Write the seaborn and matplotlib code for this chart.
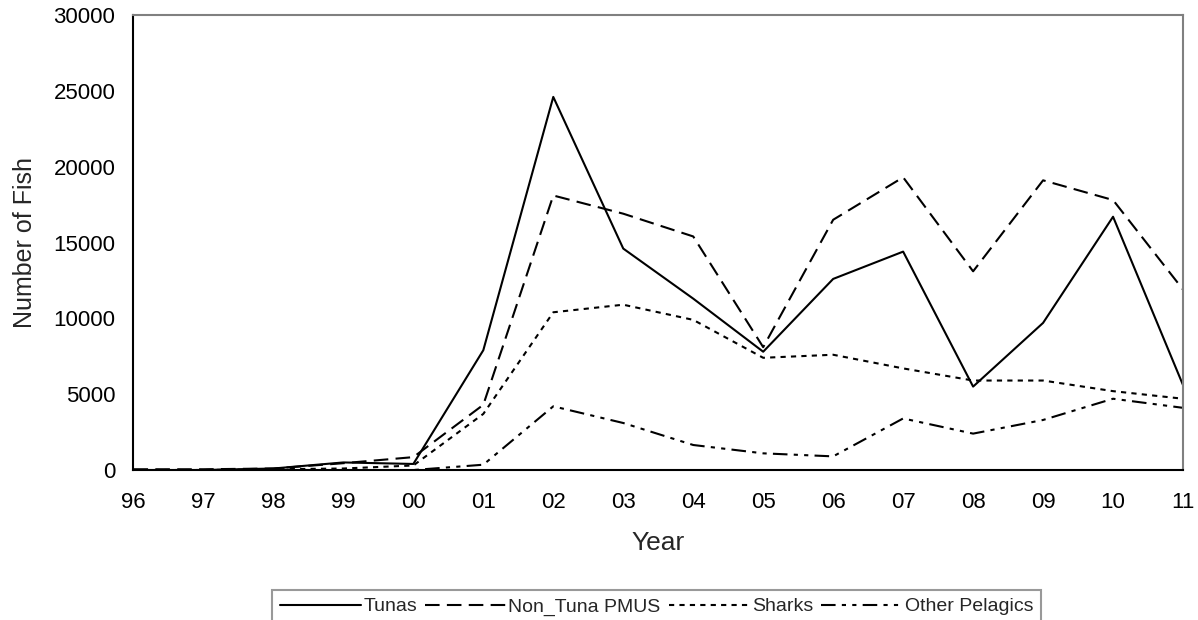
import pandas as pd
import matplotlib.pyplot as plt
import seaborn as sns

# Data
years = ['96', '97', '98', '99', '00', '01', '02', '03', '04', '05', '06', '07', '08', '09', '10', '11']
tunas = [0, 0, 100, 500, 400, 7900, 24600, 14600, 11300, 7800, 12600, 14400, 5500, 9700, 16700, 5600]
non_tuna = [50, 50, 100, 450, 850, 4300, 18100, 16900, 15400, 8100, 16500, 19300, 13100, 19100, 17800, 11900]
sharks = [0, 0, 50, 100, 300, 3700, 10400, 10900, 9900, 7400, 7600, 6700, 5900, 5900, 5200, 4700]
other_pelagics = [0, 0, 0, 0, 0, 350, 4200, 3100, 1650, 1100, 900, 3400, 2400, 3300, 4700, 4100]

series = ['Tunas', 'Non_Tuna PMUS', 'Sharks', 'Other Pelagics']
values = [tunas, non_tuna, sharks, other_pelagics]

rows = []
for name, vals in zip(series, values):
    for i, v in enumerate(vals):
        rows.append({'x': i, 'Number of Fish': v, 'Series': name})
df = pd.DataFrame(rows)

sns.set_style('white')
plt.rcParams['font.family'] = ['Liberation Sans', 'DejaVu Sans']

fig = plt.figure(figsize=(11.98, 6.2), dpi=100)
ax = fig.add_axes([0.1114, 0.2419, 0.8761, 0.7339])

dashes = {
    'Tunas': '',
    'Non_Tuna PMUS': (7, 3.5),
    'Sharks': (2.5, 2.5),
    'Other Pelagics': (7, 3, 2, 3, 2, 3),
}
sns.lineplot(data=df, x='x', y='Number of Fish', hue='Series', style='Series',
             palette=['black'] * 4, dashes=dashes, linewidth=1.5, ax=ax, legend=False)

ax.set_xlim(0, 15)
ax.set_ylim(0, 30000)
ax.set_xticks(range(len(years)))
ax.set_xticklabels(years)
ax.set_yticks(range(0, 30001, 5000))
ax.tick_params(axis='both', direction='inout', length=10, width=1.2, labelsize=16, colors='black')
ax.tick_params(axis='x', pad=11)
ax.tick_params(axis='y', pad=8)
ax.set_xlabel('Year', fontsize=19, labelpad=13)
ax.set_ylabel('Number of Fish', fontsize=18, labelpad=12)

for s in ['left', 'bottom']:
    ax.spines[s].set_color('black')
    ax.spines[s].set_linewidth(1.5)
for s in ['top', 'right']:
    ax.spines[s].set_color('#808080')
    ax.spines[s].set_linewidth(1.5)

handles = [plt.Line2D([], [], color='black', lw=1.5, ls='-')]
for name in series[1:]:
    handles.append(plt.Line2D([], [], color='black', lw=1.5, ls=(0, dashes[name])))
leg = fig.legend(handles, series, loc='upper center', bbox_to_anchor=(0.548, 0.0484),
                 ncol=4, fontsize=14, frameon=True, fancybox=False, handlelength=4.2,
                 handletextpad=0.1, columnspacing=0.4, borderpad=0.4, borderaxespad=0)
leg.get_frame().set_edgecolor('#808080')
leg.get_frame().set_linewidth(1.5)

fig.savefig('out.png', dpi=100)
